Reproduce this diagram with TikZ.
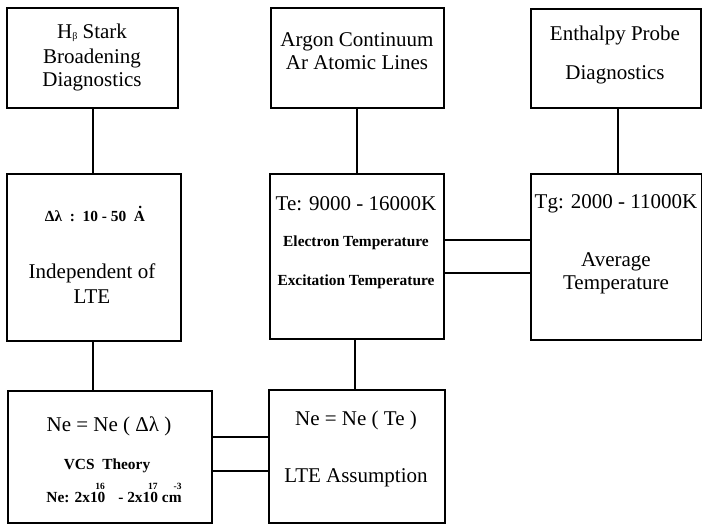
\documentclass[tikz,border=0pt]{standalone}
\usepackage{fontspec}
\setmainfont{Liberation Serif}
\begin{document}
\begin{tikzpicture}[x=1pt,y=-1pt,
  boxnode/.style={draw,line width=1.5pt,rectangle,inner sep=0pt,anchor=north west},
  bigtext/.style={font=\fontsize{21}{23}\selectfont,inner sep=0pt,anchor=center},
  smalltext/.style={font=\fontsize{15.4}{17}\selectfont\bfseries,inner sep=0pt,anchor=center},
  link/.style={line width=1.5pt}]
\useasboundingbox (0,0) rectangle (702,525);
% boxes
\node[boxnode,minimum width=171pt,minimum height=100pt] (b1) at (6,7) {};
\node[boxnode,minimum width=173pt,minimum height=100pt] (b7) at (270,7) {};
\node[boxnode,minimum width=170pt,minimum height=99pt] (b8) at (530,8) {};
\node[boxnode,minimum width=174pt,minimum height=167pt] (b2) at (6,173) {};
\node[boxnode,minimum width=174pt,minimum height=165pt] (b5) at (269,173) {};
\node[boxnode,minimum width=171pt,minimum height=166pt] (b6) at (530,173) {};
\node[boxnode,minimum width=204pt,minimum height=132pt] (b3) at (7,390) {};
\node[boxnode,minimum width=176pt,minimum height=133pt] (b4) at (268,389) {};
% texts box 1
\node[bigtext] (t1a) at (92,33) {H{\fontsize{10}{10}\selectfont\raisebox{-0.5pt}{β}} Stark};
\node[bigtext] (t1b) at (92,58) {Broadening};
\node[bigtext] (t1c) at (92,82) {Diagnostics};
% box 7
\node[bigtext] (t7a) at (357,42) {Argon Continuum};
\node[bigtext] (t7b) at (357,63) {Ar Atomic Lines};
% box 8
\node[bigtext] (t8a) at (615,35) {Enthalpy Probe};
\node[bigtext] (t8b) at (615,75) {Diagnostics};
% box 2
\node[smalltext] (t2a) at (95,216) {Δλ\ \ :\ \ 10 - 50\ \ A\llap{\raisebox{13pt}[0pt][0pt]{.\kern2.8pt}}};
\node[bigtext] (t2b) at (92,273) {Independent of};
\node[bigtext] (t2c) at (92,297) {LTE};
% box 5
\node[bigtext] (t5a) at (356,204) {Te: 9000 - 16000K};
\node[smalltext] (t5b) at (356,243) {Electron Temperature};
\node[smalltext] (t5c) at (356,282) {Excitation Temperature};
% box 6
\node[bigtext] (t6a) at (616,204) {Tg: 2000 - 11000K};
\node[bigtext] (t6b) at (616,262) {Average};
\node[bigtext] (t6c) at (616,285) {Temperature};
% box 3
\node[bigtext] (t3a) at (109,426) {Ne = Ne ( Δλ )};
\node[smalltext] (t3b) at (107,466) {VCS\ \ Theory};
\node[smalltext] (t3c) at (114,497) {Ne: 2x10\llap{\raisebox{13pt}[0pt][0pt]{\fontsize{9.5}{9}\selectfont 16\kern0.5pt}}\hspace{9pt} - 2x10\llap{\raisebox{13pt}[0pt][0pt]{\fontsize{9.5}{9}\selectfont 17\kern0.5pt}} cm\llap{\raisebox{13pt}[0pt][0pt]{\fontsize{9.5}{9}\selectfont -3}}};
% box 4
\node[bigtext] (t4a) at (356,420) {Ne = Ne ( Te )};
\node[bigtext] (t4b) at (356,478) {LTE Assumption};
% helper coordinates
\coordinate (h1) at (0,240);
\coordinate (h2) at (0,273);
\coordinate (h3) at (0,437);
\coordinate (h4) at (0,471);
\coordinate (v1) at (93,0);
\coordinate (v2) at (357,0);
\coordinate (v3) at (355,0);
\coordinate (v4) at (618,0);
% connectors
\draw[link] (v1 |- b1.south) -- (v1 |- b2.north);
\draw[link] (v1 |- b2.south) -- (v1 |- b3.north);
\draw[link] (v2 |- b7.south) -- (v2 |- b5.north);
\draw[link] (v3 |- b5.south) -- (v3 |- b4.north);
\draw[link] (v4 |- b8.south) -- (v4 |- b6.north);
\draw[link] (b5.east |- h1) -- (b6.west |- h1);
\draw[link] (b5.east |- h2) -- (b6.west |- h2);
\draw[link] (b3.east |- h3) -- (b4.west |- h3);
\draw[link] (b3.east |- h4) -- (b4.west |- h4);
\end{tikzpicture}
\end{document}
